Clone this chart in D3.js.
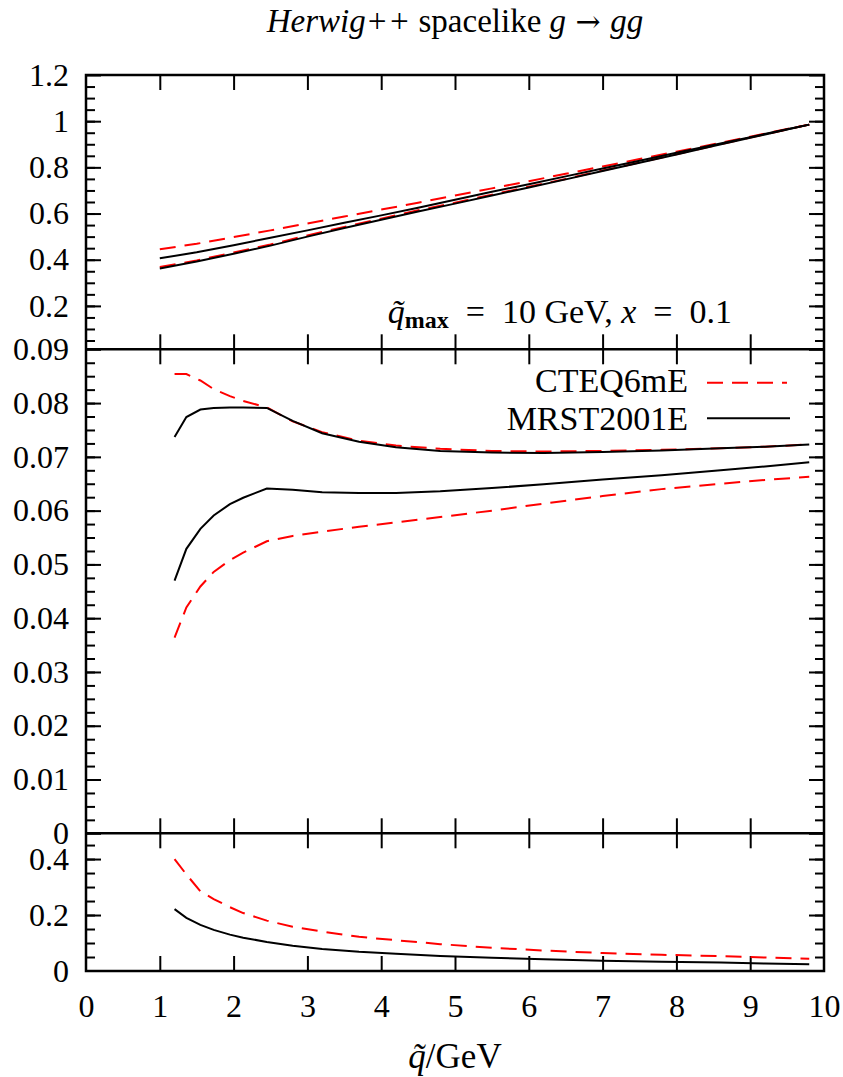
<!DOCTYPE html>
<html>
<head>
<meta charset="utf-8">
<script src="https://cdn.jsdelivr.net/npm/d3@7"></script>
<style>
  body { margin: 0; background: #fff; }
  svg text { font-family: "Liberation Serif", "DejaVu Serif", serif; fill: #000; }
</style>
</head>
<body>
<div id="chart"></div>
<script>
// x ticks shared by all panels
const xTicks = [0, 1, 2, 3, 4, 5, 6, 7, 8, 9, 10];

// top panel
const topX = [1, 1.5, 2, 2.5, 3, 3.5, 4, 4.5, 5, 5.5, 6, 6.5, 7, 7.5, 8, 8.5, 9, 9.5, 9.8];
const topCteqHi = [0.445, 0.469, 0.498, 0.527, 0.557, 0.587, 0.617, 0.647, 0.678, 0.709, 0.740, 0.772, 0.804, 0.836, 0.868, 0.900, 0.933, 0.966, 0.985];
const topMrstHi = [0.406, 0.432, 0.463, 0.495, 0.527, 0.560, 0.592, 0.625, 0.660, 0.694, 0.727, 0.761, 0.795, 0.829, 0.863, 0.897, 0.931, 0.965, 0.985];
const topCteqLo = [0.368, 0.397, 0.431, 0.466, 0.505, 0.542, 0.578, 0.614, 0.647, 0.682, 0.716, 0.750, 0.786, 0.821, 0.857, 0.893, 0.929, 0.964, 0.985];
const topMrstLo = [0.362, 0.392, 0.426, 0.461, 0.500, 0.537, 0.573, 0.609, 0.643, 0.678, 0.713, 0.748, 0.784, 0.820, 0.856, 0.892, 0.928, 0.964, 0.985];
const topTicks = [0.2, 0.4, 0.6, 0.8, 1, 1.2];

// middle panel
const midX = [1.2, 1.36, 1.55, 1.73, 1.95, 2.13, 2.45, 2.8, 3.2, 3.7, 4.2, 4.8, 5.5, 6.2, 7.0, 7.8, 8.6, 9.2, 9.8];
const midCteqHi = [0.0854, 0.0854, 0.0842, 0.0826, 0.0813, 0.0804, 0.0792, 0.0766, 0.0746, 0.0730, 0.0721, 0.0715, 0.0711, 0.0710, 0.0711, 0.0713, 0.0716, 0.0719, 0.0723];
const midMrstHi = [0.0737, 0.0774, 0.0788, 0.0791, 0.0792, 0.0792, 0.0791, 0.0767, 0.0744, 0.0728, 0.0718, 0.0711, 0.0708, 0.0707, 0.0709, 0.0712, 0.0716, 0.0719, 0.0723];
const midMrstLo = [0.0470, 0.0529, 0.0566, 0.0591, 0.0612, 0.0624, 0.0641, 0.0639, 0.0634, 0.0633, 0.0633, 0.0636, 0.0642, 0.0649, 0.0658, 0.0666, 0.0675, 0.0682, 0.0690];
const midCteqLo = [0.0364, 0.0420, 0.0459, 0.0486, 0.0508, 0.0522, 0.0543, 0.0553, 0.0561, 0.0570, 0.0578, 0.0588, 0.0600, 0.0613, 0.0627, 0.0640, 0.0650, 0.0657, 0.0663];
const midTicks = [0, 0.01, 0.02, 0.03, 0.04, 0.05, 0.06, 0.07, 0.08, 0.09];

// bottom panel
const botX = midX;
const botCteq = [0.400, 0.345, 0.285, 0.257, 0.228, 0.207, 0.180, 0.158, 0.141, 0.122, 0.110, 0.096, 0.083, 0.073, 0.064, 0.058, 0.053, 0.048, 0.044];
const botMrst = [0.221, 0.190, 0.165, 0.147, 0.130, 0.119, 0.104, 0.090, 0.079, 0.069, 0.062, 0.054, 0.047, 0.042, 0.037, 0.033, 0.030, 0.027, 0.024];
const botTicks = [0, 0.2, 0.4];

const config = {
  width: 843, height: 1077,
  left: 86, right: 824,
  fontSize: 32,
  red: '#ff0000',
  dash: '16,9'
};

const svg = d3.select('#chart').append('svg')
    .attr('width', config.width)
    .attr('height', config.height);

const x = d3.scaleLinear().domain([0, 10]).range([config.left, config.right]);

const panels = [
  {
    y: d3.scaleLinear().domain([0.012, 1.2]).range([349.3, 75]),
    major: topTicks, minor: d3.range(0.05, 1.2, 0.05),
    fmt: d => String(+d.toFixed(1)),
    series: [
      {xs: topX, ys: topCteqHi, red: true},
      {xs: topX, ys: topCteqLo, red: true},
      {xs: topX, ys: topMrstHi, red: false},
      {xs: topX, ys: topMrstLo, red: false}
    ]
  },
  {
    y: d3.scaleLinear().domain([0, 0.09]).range([833.3, 349.3]),
    major: midTicks, minor: d3.range(0.0025, 0.09, 0.0025),
    fmt: d => String(+d.toFixed(2)),
    series: [
      {xs: midX, ys: midCteqHi, red: true},
      {xs: midX, ys: midCteqLo, red: true},
      {xs: midX, ys: midMrstHi, red: false},
      {xs: midX, ys: midMrstLo, red: false}
    ]
  },
  {
    y: d3.scaleLinear().domain([0, 0.492]).range([971, 833.3]),
    major: botTicks, minor: d3.range(0.05, 0.49, 0.05),
    fmt: d => String(+d.toFixed(1)),
    showX: true,
    series: [
      {xs: botX, ys: botCteq, red: true},
      {xs: botX, ys: botMrst, red: false}
    ]
  }
];

function styleAxis(g) {
  g.select('.domain').remove();
  g.selectAll('.tick line').attr('stroke', '#000').attr('stroke-width', 2);
  g.selectAll('.tick text')
      .attr('font-size', config.fontSize)
      .attr('font-family', '"Liberation Serif", "DejaVu Serif", serif')
      .attr('fill', '#000');
}

panels.forEach(p => {
  const g = svg.append('g');
  const [yb, yt] = p.y.range();

  // y minor ticks, left and right
  g.append('g').attr('transform', `translate(${config.left},0)`)
      .call(d3.axisLeft(p.y).tickValues(p.minor).tickSize(-9).tickFormat(''))
      .call(styleAxis);
  g.append('g').attr('transform', `translate(${config.right},0)`)
      .call(d3.axisRight(p.y).tickValues(p.minor).tickSize(-9).tickFormat(''))
      .call(styleAxis);

  // y major ticks with labels on the left
  g.append('g').attr('transform', `translate(${config.left},0)`)
      .call(d3.axisLeft(p.y).tickValues(p.major).tickSize(-15).tickPadding(17).tickFormat(p.fmt))
      .call(styleAxis);
  g.append('g').attr('transform', `translate(${config.right},0)`)
      .call(d3.axisRight(p.y).tickValues(p.major).tickSize(-15).tickFormat(''))
      .call(styleAxis);

  // x ticks on top and bottom of each panel
  g.append('g').attr('transform', `translate(0,${yt})`)
      .call(d3.axisTop(x).tickValues(xTicks.slice(1, -1)).tickSize(-15).tickFormat(''))
      .call(styleAxis);
  g.append('g').attr('transform', `translate(0,${yb})`)
      .call(d3.axisBottom(x).tickValues(p.showX ? xTicks : xTicks.slice(1, -1))
        .tickSize(-15).tickPadding(23).tickFormat(p.showX ? d3.format('d') : ''))
      .call(styleAxis);
  if (p.showX) {
    g.selectAll('.tick line').filter(d => d === 0 || d === 10).remove();
  }

  // curves
  const line = d3.line().x(d => x(d[0])).y(d => p.y(d[1]));
  p.series.forEach(s => {
    g.append('path')
        .datum(s.xs.map((v, i) => [v, s.ys[i]]))
        .attr('fill', 'none')
        .attr('stroke', s.red ? config.red : '#000')
        .attr('stroke-width', 2)
        .attr('stroke-dasharray', s.red ? config.dash : null)
        .attr('d', line);
  });
});

// frame and panel separators
svg.append('rect')
    .attr('x', config.left).attr('y', 75)
    .attr('width', config.right - config.left).attr('height', 971 - 75)
    .attr('fill', 'none').attr('stroke', '#000').attr('stroke-width', 2.5);
[349.3, 833.3].forEach(yy => {
  svg.append('line')
      .attr('x1', config.left).attr('x2', config.right)
      .attr('y1', yy).attr('y2', yy)
      .attr('stroke', '#000').attr('stroke-width', 2.5);
});

// title
const title = svg.append('text')
    .attr('x', 455).attr('y', 32)
    .attr('text-anchor', 'middle')
    .attr('font-size', 33);
title.append('tspan').attr('font-style', 'italic').text('Herwig++');
title.append('tspan').text(' spacelike ');
title.append('tspan').attr('font-style', 'italic').text('g');
title.append('tspan').attr('font-family', '"DejaVu Serif", serif').attr('font-size', 30).text(' \u2192 ');
title.append('tspan').attr('font-style', 'italic').attr('font-size', 33).text('gg');

// annotation in the top panel
const note = svg.append('text')
    .attr('x', 732).attr('y', 323)
    .attr('text-anchor', 'end')
    .attr('font-size', 34);
note.append('tspan').attr('font-style', 'italic').text('q\u0303');
note.append('tspan').attr('font-weight', 'bold').attr('font-size', 24).attr('dy', 5).text('max');
note.append('tspan').attr('dy', -5).text('\u2002=\u200210 GeV, ');
note.append('tspan').attr('font-style', 'italic').text('x');
note.append('tspan').text('\u2002=\u20020.1');

// legend
const legend = [
  {label: 'CTEQ6mE', red: true, y: 392, ly: 382.7, x2: 787},
  {label: 'MRST2001E', red: false, y: 430, ly: 418.3, x2: 790}
];
legend.forEach(l => {
  svg.append('text')
      .attr('x', 688).attr('y', l.y)
      .attr('text-anchor', 'end')
      .attr('font-size', 34)
      .text(l.label);
  svg.append('line')
      .attr('x1', 707).attr('x2', l.x2)
      .attr('y1', l.ly).attr('y2', l.ly)
      .attr('stroke', l.red ? config.red : '#000')
      .attr('stroke-width', 2)
      .attr('stroke-dasharray', l.red ? config.dash : null);
});

// x axis title
const xt = svg.append('text')
    .attr('x', 455).attr('y', 1068)
    .attr('text-anchor', 'middle')
    .attr('font-size', 35);
xt.append('tspan').attr('font-style', 'italic').text('q\u0303');
xt.append('tspan').text('/GeV');
</script>
</body>
</html>
